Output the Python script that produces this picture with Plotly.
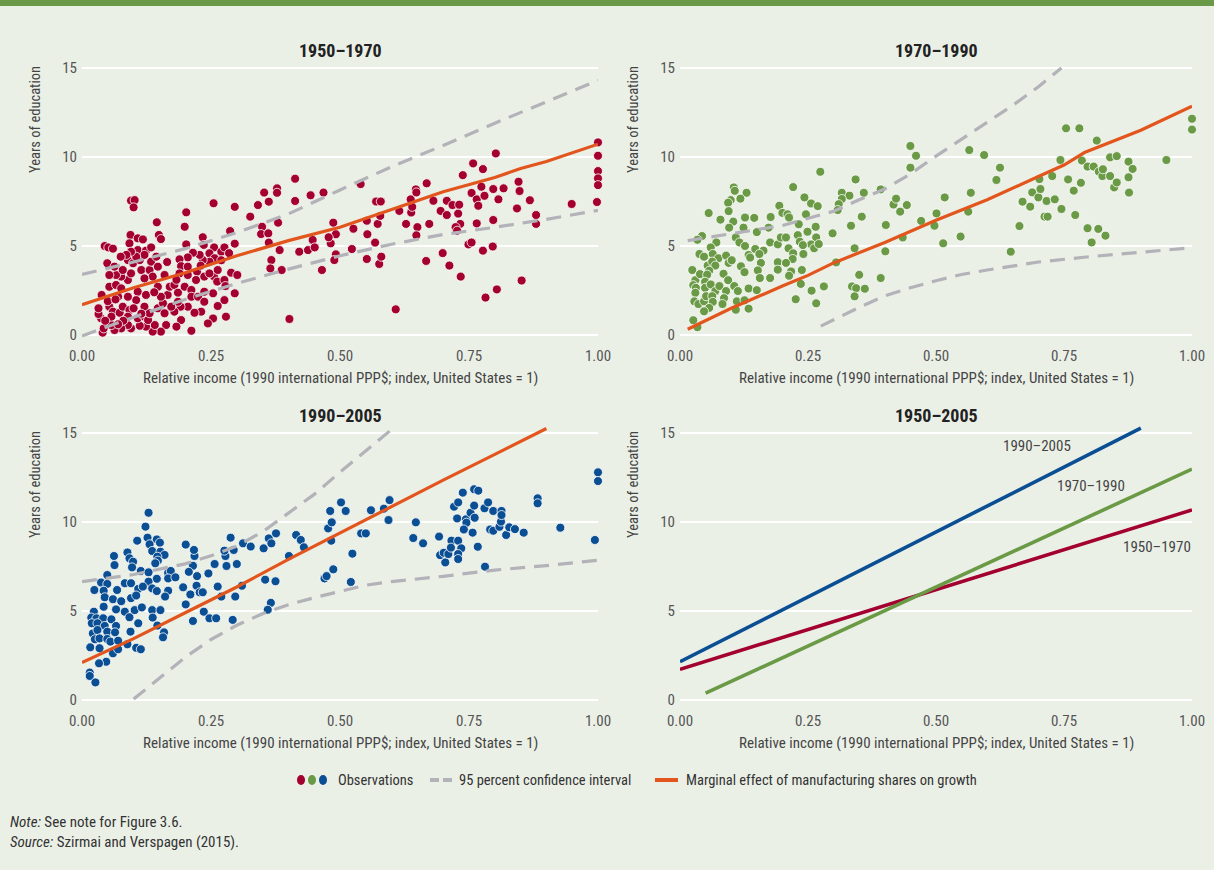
import plotly.graph_objects as go

# Scatter observations (relative income, years of education)
obs_5070_x = [0.095, 0.102, 0.100, 0.413, 0.255, 0.296, 0.202, 0.145, 0.199, 0.353, 0.378, 0.378, 0.362, 0.341, 0.326,
              0.413, 0.443, 0.380, 0.349, 0.347, 0.361, 0.287, 0.296, 0.362, 0.383, 0.367, 0.365, 0.387, 0.421, 0.438,
              0.447, 0.451, 0.402, 0.094, 0.108, 0.118, 0.149, 0.153, 0.044, 0.051, 0.060, 0.092, 0.108, 0.124, 0.134,
              0.202, 0.234, 0.236, 0.256, 0.247, 0.270, 0.276, 0.257, 0.247, 0.234, 0.228, 0.215, 0.205, 0.189, 0.192,
              0.205, 0.189, 0.205, 0.223, 0.221, 0.237, 0.256, 0.262, 0.276, 0.289, 0.301, 0.247, 0.263, 0.278, 0.276,
              0.263, 0.279, 0.254, 0.244, 0.231, 0.218, 0.212, 0.205, 0.191, 0.186, 0.179, 0.192, 0.183, 0.163, 0.153,
              0.137, 0.141, 0.124, 0.112, 0.108, 0.095, 0.089, 0.076, 0.063, 0.057, 0.040, 0.042, 0.037, 0.032, 0.032,
              0.038, 0.053, 0.060, 0.057, 0.073, 0.079, 0.092, 0.089, 0.121, 0.121, 0.128, 0.131, 0.147, 0.157, 0.166,
              0.160, 0.173, 0.053, 0.066, 0.076, 0.089, 0.095, 0.076, 0.066, 0.053, 0.049, 0.063, 0.079, 0.089, 0.099,
              0.112, 0.115, 0.131, 0.137, 0.134, 0.147, 0.121, 0.108, 0.124, 0.105, 0.089, 0.070, 0.160, 0.170, 0.153,
              0.147, 0.179, 0.186, 0.199, 0.212, 0.212, 0.225, 0.237, 0.254, 0.237, 0.296, 0.144, 0.121, 0.105, 0.095,
              0.086, 0.075, 0.045, 0.050, 0.065, 0.080, 0.100, 0.115, 0.070, 0.140, 0.165, 0.183, 0.230, 0.270, 0.285,
              0.468, 0.540, 0.487, 0.492, 0.482, 0.478, 0.492, 0.489, 0.523, 0.526, 0.552, 0.553, 0.576, 0.580, 0.568,
              0.573, 0.578, 0.570, 0.579, 0.552, 0.465, 0.608, 0.615, 0.628, 0.638, 0.640, 0.637, 0.647, 0.648, 0.650,
              0.648, 0.668, 0.673, 0.667, 0.681, 0.695, 0.699, 0.707, 0.707, 0.712, 0.718, 0.729, 0.731, 0.733, 0.724,
              0.727, 0.734, 0.738, 0.749, 0.755, 0.758, 0.755, 0.765, 0.768, 0.765, 0.774, 0.777, 0.780, 0.777, 0.782,
              0.796, 0.797, 0.797, 0.802, 0.804, 0.807, 0.817, 0.843, 0.846, 0.848, 0.852, 0.868, 0.880, 0.880, 0.949,
              1.0, 1.0, 1.0, 1.0, 1.0, 0.998]
obs_5070_y = [7.55, 7.58, 7.17, 8.78, 7.40, 7.20, 6.89, 6.33, 6.08, 8.00, 8.24, 7.99, 7.49, 7.30, 6.65,
              7.53, 7.85, 6.31, 6.08, 5.67, 5.71, 5.84, 5.13, 5.19, 4.77, 4.21, 3.74, 3.65, 4.68, 4.77,
              5.34, 4.92, 0.90, 5.62, 5.43, 5.37, 5.62, 5.39, 5.00, 4.92, 4.85, 5.15, 4.77, 4.74, 4.92,
              5.09, 5.49, 5.06, 4.92, 4.59, 4.68, 4.92, 4.31, 4.12, 4.21, 4.50, 4.62, 4.36, 4.25, 3.87,
              3.84, 3.46, 3.37, 3.56, 3.09, 3.28, 3.28, 3.00, 3.09, 3.50, 3.37, 3.46, 3.65, 2.75, 1.96,
              1.63, 1.03, 0.93, 0.65, 1.31, 1.25, 0.24, 1.59, 1.59, 1.87, 1.31, 0.84, 0.47, 0.56, 0.19,
              0.19, 0.56, 0.47, 0.52, 0.94, 0.37, 0.56, 0.37, 0.28, 0.56, 0.13, 0.37, 0.94, 1.18, 1.50,
              2.25, 1.59, 1.31, 1.03, 1.25, 1.59, 1.40, 1.03, 1.59, 1.03, 0.84, 1.22, 1.50, 1.78, 2.25,
              1.22, 1.59, 2.71, 2.81, 2.62, 3.09, 3.46, 3.28, 3.37, 3.37, 4.03, 3.84, 3.65, 4.21, 4.03,
              4.21, 3.65, 3.65, 3.28, 4.12, 3.84, 3.18, 2.43, 2.25, 1.96, 2.15, 2.15, 3.37, 2.71, 2.15,
              2.71, 2.81, 2.38, 2.71, 2.53, 2.15, 2.15, 2.43, 2.34, 1.87, 2.34, 4.40, 4.50, 4.40, 4.68,
              4.50, 4.40, 0.80, 1.90, 2.00, 0.80, 1.50, 1.20, 0.60, 2.40, 4.10, 3.10, 3.90, 4.20, 4.60,
              8.00, 8.48, 6.31, 5.66, 5.15, 5.49, 4.53, 4.21, 4.83, 5.97, 4.27, 5.66, 3.99, 4.40, 5.19,
              6.24, 6.69, 7.50, 7.50, 6.42, 3.65, 1.44, 6.97, 6.24, 6.88, 7.20, 7.62, 8.18, 8.01, 6.06,
              5.60, 8.52, 6.24, 4.16, 7.54, 6.97, 4.60, 6.74, 7.54, 3.90, 7.30, 6.82, 7.32, 6.24, 6.06,
              5.86, 3.28, 8.98, 5.09, 5.20, 9.64, 7.98, 7.62, 7.26, 6.27, 8.33, 9.32, 7.82, 4.74, 2.10,
              4.97, 6.46, 8.20, 10.20, 2.56, 7.62, 8.24, 7.11, 8.61, 8.09, 3.06, 7.57, 6.74, 6.24, 7.36,
              10.82, 10.07, 9.21, 8.80, 8.42, 7.47]

obs_7090_x = [0.450, 0.461, 0.450, 0.274, 0.343, 0.221, 0.105, 0.107, 0.130, 0.118, 0.099, 0.094, 0.243, 0.316, 0.331,
              0.359, 0.316, 0.256, 0.269, 0.310, 0.308, 0.194, 0.056, 0.095, 0.079, 0.104, 0.096, 0.127, 0.145, 0.177,
              0.200, 0.210, 0.213, 0.173, 0.124, 0.150, 0.232, 0.246, 0.265, 0.249, 0.266, 0.256, 0.334, 0.355, 0.298,
              0.402, 0.417, 0.422, 0.430, 0.443, 0.392, 0.341, 0.401, 0.435, 0.471, 0.043, 0.034, 0.071, 0.060, 0.038,
              0.047, 0.064, 0.075, 0.090, 0.109, 0.116, 0.127, 0.134, 0.137, 0.147, 0.163, 0.155, 0.176, 0.191, 0.197,
              0.207, 0.212, 0.221, 0.220, 0.230, 0.234, 0.240, 0.241, 0.262, 0.271, 0.024, 0.030, 0.026, 0.039, 0.054,
              0.063, 0.069, 0.057, 0.053, 0.049, 0.049, 0.060, 0.069, 0.031, 0.030, 0.028, 0.036, 0.047, 0.051, 0.063,
              0.064, 0.057, 0.047, 0.034, 0.026, 0.077, 0.085, 0.090, 0.086, 0.083, 0.095, 0.101, 0.094, 0.106, 0.113,
              0.111, 0.109, 0.119, 0.126, 0.134, 0.134, 0.150, 0.126, 0.158, 0.152, 0.156, 0.176, 0.191, 0.191, 0.207,
              0.217, 0.213, 0.238, 0.236, 0.226, 0.257, 0.266, 0.281, 0.305, 0.336, 0.344, 0.341, 0.350, 0.361, 0.392,
              0.514, 0.517, 0.501, 0.497, 0.548, 0.563, 0.568, 0.565, 0.594, 0.618, 0.625, 0.646, 0.663, 0.669, 0.684,
              0.688, 0.700, 0.702, 0.704, 0.716, 0.732, 0.712, 0.718, 0.727, 0.743, 0.745, 0.754, 0.758, 0.769, 0.772,
              0.780, 0.783, 0.785, 0.796, 0.796, 0.804, 0.808, 0.814, 0.817, 0.818, 0.825, 0.826, 0.831, 0.840, 0.853,
              0.840, 0.848, 0.853, 0.876, 0.884, 0.876, 0.877, 0.950, 1.0, 1.0]
obs_7090_y = [10.62, 10.07, 9.40, 9.17, 8.74, 8.31, 8.29, 8.10, 7.99, 7.66, 7.58, 7.43, 7.73, 7.99, 7.83,
              7.99, 7.64, 7.39, 7.24, 7.35, 7.02, 7.26, 6.85, 6.96, 6.48, 6.37, 6.03, 6.60, 6.58, 6.63,
              6.86, 6.78, 6.60, 6.03, 6.03, 5.78, 6.22, 6.78, 6.08, 5.80, 5.48, 5.09, 6.14, 6.65, 5.71,
              6.18, 7.33, 7.66, 6.93, 7.30, 8.18, 4.87, 4.70, 5.48, 6.41, 5.56, 5.35, 5.20, 4.92, 4.55,
              4.40, 4.55, 4.31, 4.46, 5.48, 5.20, 5.00, 4.50, 4.35, 4.83, 4.74, 4.55, 5.20, 5.09, 5.48,
              5.48, 4.87, 4.59, 4.27, 5.61, 5.24, 5.05, 4.55, 4.87, 5.11, 3.65, 3.08, 2.80, 3.42, 3.90,
              4.12, 3.90, 3.61, 3.39, 2.99, 2.65, 2.84, 2.47, 2.65, 2.37, 1.89, 1.74, 1.89, 2.18, 2.18,
              1.86, 1.52, 1.33, 0.44, 0.83, 2.75, 3.44, 2.47, 2.07, 1.74, 4.05, 4.20, 3.08, 2.75, 2.47,
              1.89, 1.42, 3.86, 3.53, 2.61, 1.48, 2.52, 1.95, 4.05, 3.63, 3.20, 3.20, 4.09, 3.67, 4.05,
              3.57, 3.33, 3.65, 2.87, 2.01, 2.49, 1.78, 2.73, 4.08, 2.73, 2.63, 2.17, 3.38, 2.60, 3.20,
              5.15, 7.73, 6.83, 6.14, 5.53, 6.93, 7.99, 10.39, 10.11, 8.71, 9.40, 4.68, 6.12, 7.49, 7.21,
              8.01, 7.73, 8.76, 8.20, 7.53, 7.62, 6.65, 6.65, 8.93, 9.83, 7.08, 11.61, 8.74, 8.11, 6.74,
              11.61, 8.55, 9.80, 9.46, 6.00, 5.20, 9.46, 10.92, 5.96, 9.18, 8.93, 9.31, 5.58, 9.98, 10.05,
              8.93, 8.29, 8.57, 9.74, 9.33, 8.86, 8.00, 9.83, 12.15, 11.54]

obs_9005_x = [0.129, 0.123, 0.127, 0.145, 0.151, 0.107, 0.131, 0.136, 0.152, 0.160, 0.146, 0.147, 0.142, 0.062, 0.088,
              0.092, 0.099, 0.063, 0.097, 0.114, 0.129, 0.167, 0.172, 0.049, 0.167, 0.181, 0.145, 0.129, 0.083, 0.095,
              0.037, 0.049, 0.024, 0.042, 0.068, 0.109, 0.118, 0.136, 0.145, 0.167, 0.161, 0.044, 0.060, 0.076, 0.095,
              0.105, 0.042, 0.023, 0.018, 0.028, 0.041, 0.057, 0.066, 0.083, 0.092, 0.102, 0.116, 0.136, 0.152, 0.137,
              0.146, 0.109, 0.019, 0.030, 0.044, 0.021, 0.030, 0.049, 0.066, 0.064, 0.025, 0.034, 0.049, 0.055, 0.070,
              0.094, 0.159, 0.157, 0.016, 0.034, 0.060, 0.070, 0.088, 0.105, 0.114, 0.047, 0.033, 0.015, 0.015, 0.026,
              0.201, 0.215, 0.236, 0.247, 0.260, 0.292, 0.263, 0.257, 0.245, 0.223, 0.218, 0.217, 0.201, 0.215, 0.207,
              0.196, 0.222, 0.228, 0.210, 0.234, 0.270, 0.297, 0.300, 0.280, 0.278, 0.276, 0.294, 0.288, 0.312, 0.327,
              0.310, 0.355, 0.375, 0.366, 0.360, 0.352, 0.362, 0.367, 0.376, 0.401, 0.415, 0.424, 0.430, 0.470, 0.474,
              0.477, 0.481, 0.484, 0.483, 0.502, 0.511, 0.524, 0.521, 0.487, 0.541, 0.550, 0.560, 0.585, 0.596, 0.594,
              0.647, 0.642, 0.661, 0.692, 0.704, 0.694, 0.701, 0.710, 0.716, 0.729, 0.715, 0.735, 0.729, 0.729, 0.721,
              0.729, 0.738, 0.727, 0.744, 0.745, 0.740, 0.753, 0.757, 0.760, 0.760, 0.768, 0.761, 0.767, 0.781, 0.780,
              0.787, 0.791, 0.797, 0.797, 0.809, 0.812, 0.813, 0.813, 0.822, 0.828, 0.839, 0.856, 0.883, 0.883, 0.927,
              0.994, 1.0, 1.0]
obs_9005_y = [10.52, 9.74, 9.12, 9.02, 8.84, 8.95, 8.75, 8.37, 8.33, 8.15, 8.05, 7.83, 7.68, 8.09, 8.29,
              7.96, 7.77, 7.58, 7.45, 7.25, 7.17, 7.15, 7.25, 7.02, 6.83, 6.89, 6.81, 6.65, 6.56, 6.56,
              6.60, 6.52, 6.18, 6.14, 6.18, 6.24, 6.37, 6.27, 6.12, 6.14, 5.81, 5.77, 5.66, 5.55, 5.72,
              5.87, 5.24, 4.96, 4.63, 4.59, 4.59, 4.53, 5.09, 4.96, 4.65, 5.05, 5.20, 5.05, 5.05, 4.63,
              4.18, 4.31, 4.31, 4.31, 4.16, 3.74, 3.93, 3.84, 4.16, 3.80, 3.41, 3.46, 3.43, 3.28, 3.33,
              3.84, 3.80, 3.52, 2.96, 2.91, 2.62, 2.85, 3.13, 2.93, 2.85, 2.15, 2.06, 1.54, 1.35, 0.99,
              5.37, 4.44, 4.96, 4.59, 4.59, 4.50, 6.37, 7.64, 7.11, 6.96, 8.09, 8.43, 8.73, 7.54, 7.20,
              6.33, 6.42, 6.05, 5.93, 6.05, 5.81, 5.81, 7.64, 7.53, 8.09, 8.39, 8.43, 9.12, 8.80, 8.62,
              6.42, 6.76, 6.67, 5.46, 5.07, 8.52, 9.08, 8.80, 9.36, 8.09, 9.27, 8.99, 8.58, 6.83, 6.96,
              9.64, 10.62, 9.98, 8.95, 11.10, 10.62, 8.22, 6.63, 7.34, 9.36, 9.36, 10.66, 10.75, 11.23, 10.11,
              9.98, 9.10, 8.80, 9.18, 7.73, 8.14, 8.27, 8.20, 8.95, 8.95, 8.56, 8.52, 8.20, 7.92, 10.86,
              11.10, 11.65, 10.20, 10.15, 9.96, 9.58, 10.52, 9.40, 10.92, 11.84, 11.76, 10.24, 8.61, 7.49, 10.77,
              11.10, 9.58, 9.51, 10.62, 9.73, 10.02, 10.62, 10.39, 9.27, 9.70, 9.60, 9.40, 11.33, 11.05, 9.68,
              8.99, 12.79, 12.30]

# Marginal effect (orange) and 95% confidence band (grey dashes)
me_5070_x = [0, 0.1, 0.2, 0.3, 0.4, 0.5, 0.6, 0.7, 0.8, 0.85, 0.9, 1.0]
me_5070_y = [1.7, 2.65, 3.5, 4.45, 5.3, 6.05, 7.05, 8.05, 8.85, 9.35, 9.75, 10.72]
ci_hi_5070_x = [0, 0.1, 0.2, 0.3, 0.4, 0.5, 0.6, 0.7, 0.8, 0.9, 1.0]
ci_hi_5070_y = [3.4, 4.1, 4.85, 5.75, 6.8, 8.15, 9.45, 10.65, 11.9, 13.1, 14.3]
ci_lo_5070_x = [0, 0.1, 0.2, 0.3, 0.4, 0.5, 0.6, 0.7, 0.8, 0.9, 1.0]
ci_lo_5070_y = [-0.05, 1.0, 2.0, 2.9, 3.7, 4.45, 5.1, 5.65, 6.05, 6.5, 7.0]

me_7090_x = [0.015, 0.1, 0.2, 0.25, 0.3, 0.4, 0.5, 0.6, 0.7, 0.75, 0.79, 0.9, 1.0]
me_7090_y = [0.32, 1.5, 2.75, 3.35, 4.05, 5.2, 6.45, 7.6, 8.9, 9.55, 10.25, 11.5, 12.85]
ci_hi_7090_x = [0.015, 0.1, 0.2, 0.3, 0.35, 0.4, 0.45, 0.5, 0.55, 0.6, 0.65, 0.7, 0.745]
ci_hi_7090_y = [5.3, 5.7, 6.15, 6.95, 7.6, 8.2, 9.05, 10.05, 11.0, 11.95, 12.9, 13.95, 15.0]
ci_lo_7090_x = [0.275, 0.3, 0.35, 0.4, 0.45, 0.5, 0.55, 0.6, 0.7, 0.8, 0.9, 1.0]
ci_lo_7090_y = [0.5, 0.85, 1.55, 2.2, 2.65, 3.05, 3.4, 3.65, 4.1, 4.4, 4.65, 4.9]

me_9005_x = [0, 0.1, 0.2, 0.3, 0.4, 0.5, 0.6, 0.7, 0.8, 0.9]
me_9005_y = [2.1, 3.45, 4.9, 6.35, 7.9, 9.4, 10.9, 12.35, 13.8, 15.25]
ci_hi_9005_x = [0, 0.1, 0.2, 0.25, 0.3, 0.35, 0.4, 0.45, 0.5, 0.55, 0.6]
ci_hi_9005_y = [6.65, 7.05, 7.65, 8.1, 8.65, 9.45, 10.5, 11.55, 12.8, 14.0, 15.2]
ci_lo_9005_x = [0.1, 0.15, 0.2, 0.25, 0.3, 0.35, 0.4, 0.45, 0.5, 0.55, 0.6, 0.7, 0.8, 0.9, 1.0]
ci_lo_9005_y = [0.05, 1.25, 2.4, 3.4, 4.2, 4.85, 5.35, 5.75, 6.1, 6.45, 6.65, 6.95, 7.3, 7.55, 7.85]

# 1950-2005 summary panel: straight fitted lines per period
fit_periods = ["1950–1970", "1970–1990", "1990–2005"]
fit_x = [[0, 1.0], [0.05, 1.0], [0, 0.9]]
fit_y = [[1.72, 10.68], [0.38, 12.97], [2.15, 15.27]]
fit_label_x = [0.931, 0.802, 0.697]
fit_label_y = [8.61, 12.0, 14.26]

panel_titles = ["1950–1970", "1970–1990", "1990–2005", "1950–2005"]
x_ticks = [0, 0.25, 0.5, 0.75, 1.0]
y_ticks = [0, 5, 10, 15]

W, H = 1214, 870
FONT = "Liberation Sans Narrow, Arial Narrow, Roboto Condensed, sans-serif"
BG = "#ebf0e7"
RED, GREEN, BLUE = "#a3002f", "#6a9a45", "#0a4e93"
ORANGE, GREY = "#e2561d", "#b2b2b8"
period_colors = [RED, GREEN, BLUE]

# pixel boxes of the four plot areas (x at 0 and 1; y at 0 and 15)
boxes = [(82, 598, 335, 68), (680, 1192, 335, 68), (82, 598, 700, 433), (680, 1192, 700, 433)]
Y_LO, Y_HI = -0.4, 15.4

fig = go.Figure()

def axis_names(i):
    return ("x" if i == 0 else f"x{i+1}", "y" if i == 0 else f"y{i+1}")

def note(x, y, text, size, color="#444", **kw):
    # annotation placed in page pixels
    fig.add_annotation(x=x / W, y=1 - y / H, xref="paper", yref="paper", text=text, showarrow=False,
                       xanchor=kw.pop("xanchor", "center"), yanchor="middle",
                       font=dict(family=FONT, size=size, color=color), **kw)

scatter_sets = [
    (obs_5070_x, obs_5070_y, RED, me_5070_x, me_5070_y, ci_hi_5070_x, ci_hi_5070_y, ci_lo_5070_x, ci_lo_5070_y),
    (obs_7090_x, obs_7090_y, GREEN, me_7090_x, me_7090_y, ci_hi_7090_x, ci_hi_7090_y, ci_lo_7090_x, ci_lo_7090_y),
    (obs_9005_x, obs_9005_y, BLUE, me_9005_x, me_9005_y, ci_hi_9005_x, ci_hi_9005_y, ci_lo_9005_x, ci_lo_9005_y),
]

for i, (ox, oy, col, mx, my, hx, hy, lx, ly) in enumerate(scatter_sets):
    xa, ya = axis_names(i)
    fig.add_trace(go.Scatter(x=ox, y=oy, mode="markers", xaxis=xa, yaxis=ya, cliponaxis=False,
                             marker=dict(size=9, color=col, line=dict(color="white", width=0.8)),
                             showlegend=False))
    for cx, cy in [(hx, hy), (lx, ly)]:
        fig.add_trace(go.Scatter(x=cx, y=cy, mode="lines", xaxis=xa, yaxis=ya,
                                 line=dict(color=GREY, width=3.2, dash="15px,9px"), showlegend=False))
    fig.add_trace(go.Scatter(x=mx, y=my, mode="lines", xaxis=xa, yaxis=ya,
                             line=dict(color=ORANGE, width=3.2), showlegend=False))

for k in range(3):
    fig.add_trace(go.Scatter(x=fit_x[k], y=fit_y[k], mode="lines", xaxis="x4", yaxis="y4",
                             line=dict(color=period_colors[k], width=3.6), showlegend=False))
    fig.add_annotation(x=fit_label_x[k], y=fit_label_y[k], xref="x4", yref="y4", text=fit_periods[k],
                       showarrow=False, xanchor="center", font=dict(family=FONT, size=15, color="#444"))

layout = dict(width=W, height=H, margin=dict(l=0, r=0, t=0, b=0, autoexpand=False),
              paper_bgcolor=BG, plot_bgcolor=BG, font=dict(family=FONT, color="#555"))
for i, (x0, x1, y0, y15) in enumerate(boxes):
    xa, ya = axis_names(i)
    per = (y0 - y15) / 15.0
    top = y15 - (Y_HI - 15) * per
    bot = y0 - Y_LO * per
    key_x = "xaxis" if i == 0 else f"xaxis{i+1}"
    key_y = "yaxis" if i == 0 else f"yaxis{i+1}"
    layout[key_x] = dict(domain=[x0 / W, x1 / W], range=[0, 1], anchor=ya, showgrid=False, zeroline=False,
                         showline=False, tickvals=x_ticks, ticktext=[f"{v:.2f}" for v in x_ticks],
                         tickfont=dict(size=15, color="#555"), ticklabelstandoff=3, automargin=False)
    layout[key_y] = dict(domain=[1 - bot / H, 1 - top / H], range=[Y_LO, Y_HI], anchor=xa, showgrid=True,
                         gridcolor="white", gridwidth=2, zeroline=False, showline=False, tickvals=y_ticks,
                         tickfont=dict(size=15, color="#555"), ticklabelstandoff=4, automargin=False)
    cx = (x0 + x1) / 2
    note(cx, y15 - 18, f"<b>{panel_titles[i]}</b>", 18, "#222")
    note(cx, y0 + 43, "Relative income (1990 international PPP$; index, United States = 1)", 15)
    note(x0 - 47, y15 + 52, "Years of education", 14.5, textangle=-90)
fig.update_layout(**layout)

# top green rule
fig.add_shape(type="rect", xref="paper", yref="paper", x0=0, x1=1, y0=1 - 6 / H, y1=1,
              fillcolor="#6a9a47", line=dict(width=0))

# legend drawn by hand
ly = 1 - 780 / H
for j, c in enumerate(period_colors):
    cxp = 301 + j * 11
    fig.add_shape(type="circle", xref="paper", yref="paper", x0=(cxp - 4) / W, x1=(cxp + 4) / W,
                  y0=ly - 5 / H, y1=ly + 5 / H, fillcolor=c, line=dict(width=0))
for a, b in [(430, 439), (443, 452)]:
    fig.add_shape(type="line", xref="paper", yref="paper", x0=a / W, x1=b / W, y0=ly, y1=ly,
                  line=dict(color=GREY, width=4))
fig.add_shape(type="line", xref="paper", yref="paper", x0=655 / W, x1=678 / W, y0=ly, y1=ly,
              line=dict(color=ORANGE, width=4))
for xp, txt in [(336, "Observations"), (457, "95 percent confidence interval"),
                (684, "Marginal effect of manufacturing shares on growth")]:
    note(xp, 780, txt, 14.5, "#333", xanchor="left")

note(8, 822, "<i>Note:</i> See note for Figure 3.6.", 15, "#333", xanchor="left")
note(8, 842, "<i>Source:</i> Szirmai and Verspagen (2015).", 15, "#333", xanchor="left")

fig.write_html("out.html", config={"displayModeBar": False},
               post_script="document.body.style.margin='0';")
